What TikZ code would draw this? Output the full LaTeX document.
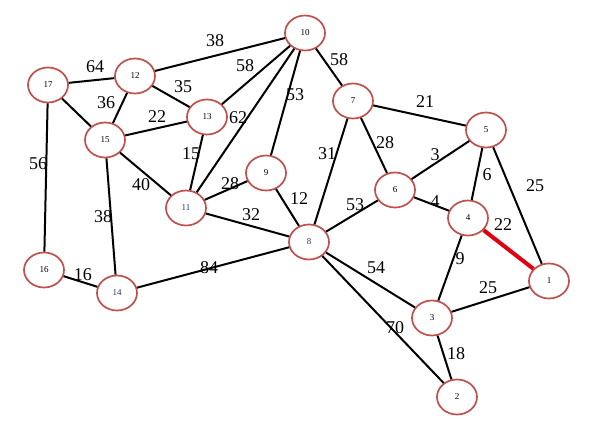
\documentclass[tikz,border=0pt]{standalone}
\usepackage{fontspec}
\setmainfont{Liberation Serif}
\usepackage{tikz}
\usetikzlibrary{shapes.geometric}
\definecolor{ringred}{RGB}{192,80,77}
\definecolor{pathred}{RGB}{224,0,16}
\definecolor{numblue}{RGB}{31,56,100}
\tikzset{
vert/.style={ellipse,draw=ringred,line width=1.7pt,fill=white,minimum width=40pt,minimum height=35pt,inner sep=0pt,font=\fontsize{9}{10}\selectfont},
wt/.style={font=\fontsize{18}{20}\selectfont,inner sep=0pt}
}
\begin{document}
\begin{tikzpicture}[x=1pt,y=-1pt,line width=2pt]
\useasboundingbox (0,0) rectangle (590,427);
\node[vert](n10)at(305,33){10};
\node[vert](n12)at(135,76){12};
\node[vert](n17)at(48,85){17};
\node[vert](n13)at(207,117){13};
\node[vert](n15)at(105,140){15};
\node[vert](n7)at(353,101){7};
\node[vert](n5)at(486,130){5};
\node[vert](n9)at(266,173){9};
\node[vert](n6)at(395,190){6};
\node[vert](n4)at(468,218){4};
\node[vert,text=numblue](n11)at(186,208){11};
\node[vert,text=numblue](n8)at(309,242){8};
\node[vert](n1)at(549,281){1};
\node[vert](n16)at(44,270){16};
\node[vert,text=numblue](n14)at(117,293){14};
\node[vert](n3)at(432,318){3};
\node[vert](n2)at(457,397){2};
\draw(n17)--(n12) (n17)--(n15) (n17)--(n16)
(n12)--(n15) (n12)--(n13) (n12)--(n10)
(n15)--(n13) (n15)--(n11) (n15)--(n14)
(n13)--(n10) (n13)--(n11) (n11)--(n10)
(n10)--(n9) (n10)--(n7) (n11)--(n9) (n11)--(n8)
(n9)--(n8) (n7)--(n8) (n7)--(n6) (n7)--(n5)
(n6)--(n5) (n6)--(n8) (n6)--(n4) (n5)--(n4)
(n5)--(n1) (n4)--(n3) (n8)--(n3) (n8)--(n2)
(n8)--(n14) (n3)--(n1) (n3)--(n2) (n16)--(n14);
\draw[pathred,line width=4pt](n4)--(n1);
\draw(215,41)node[wt]{38} (95,67)node[wt]{64} (245,66)node[wt]{58}
(183,87)node[wt]{35} (106,103)node[wt]{36} (157,117)node[wt]{22}
(238,118)node[wt]{62} (295,95)node[wt]{53} (191,154)node[wt]{15}
(38,164)node[wt]{56} (141,185)node[wt]{40} (230,184)node[wt]{28}
(299,199)node[wt]{12} (251,215)node[wt]{32} (103,217)node[wt]{38}
(83,275)node[wt]{16} (209,268)node[wt]{84} (339,60)node[wt]{58}
(425,102)node[wt]{21} (385,143)node[wt]{28} (327,154)node[wt]{31}
(435,155)node[wt]{3} (487,175)node[wt]{6} (535,186)node[wt]{25}
(355,205)node[wt]{53} (435,202)node[wt]{4} (503,225)node[wt]{22}
(460,259)node[wt]{9} (376,268)node[wt]{54} (488,288)node[wt]{25}
(395,328)node[wt]{70} (456,354)node[wt]{18};
\end{tikzpicture}
\end{document}
